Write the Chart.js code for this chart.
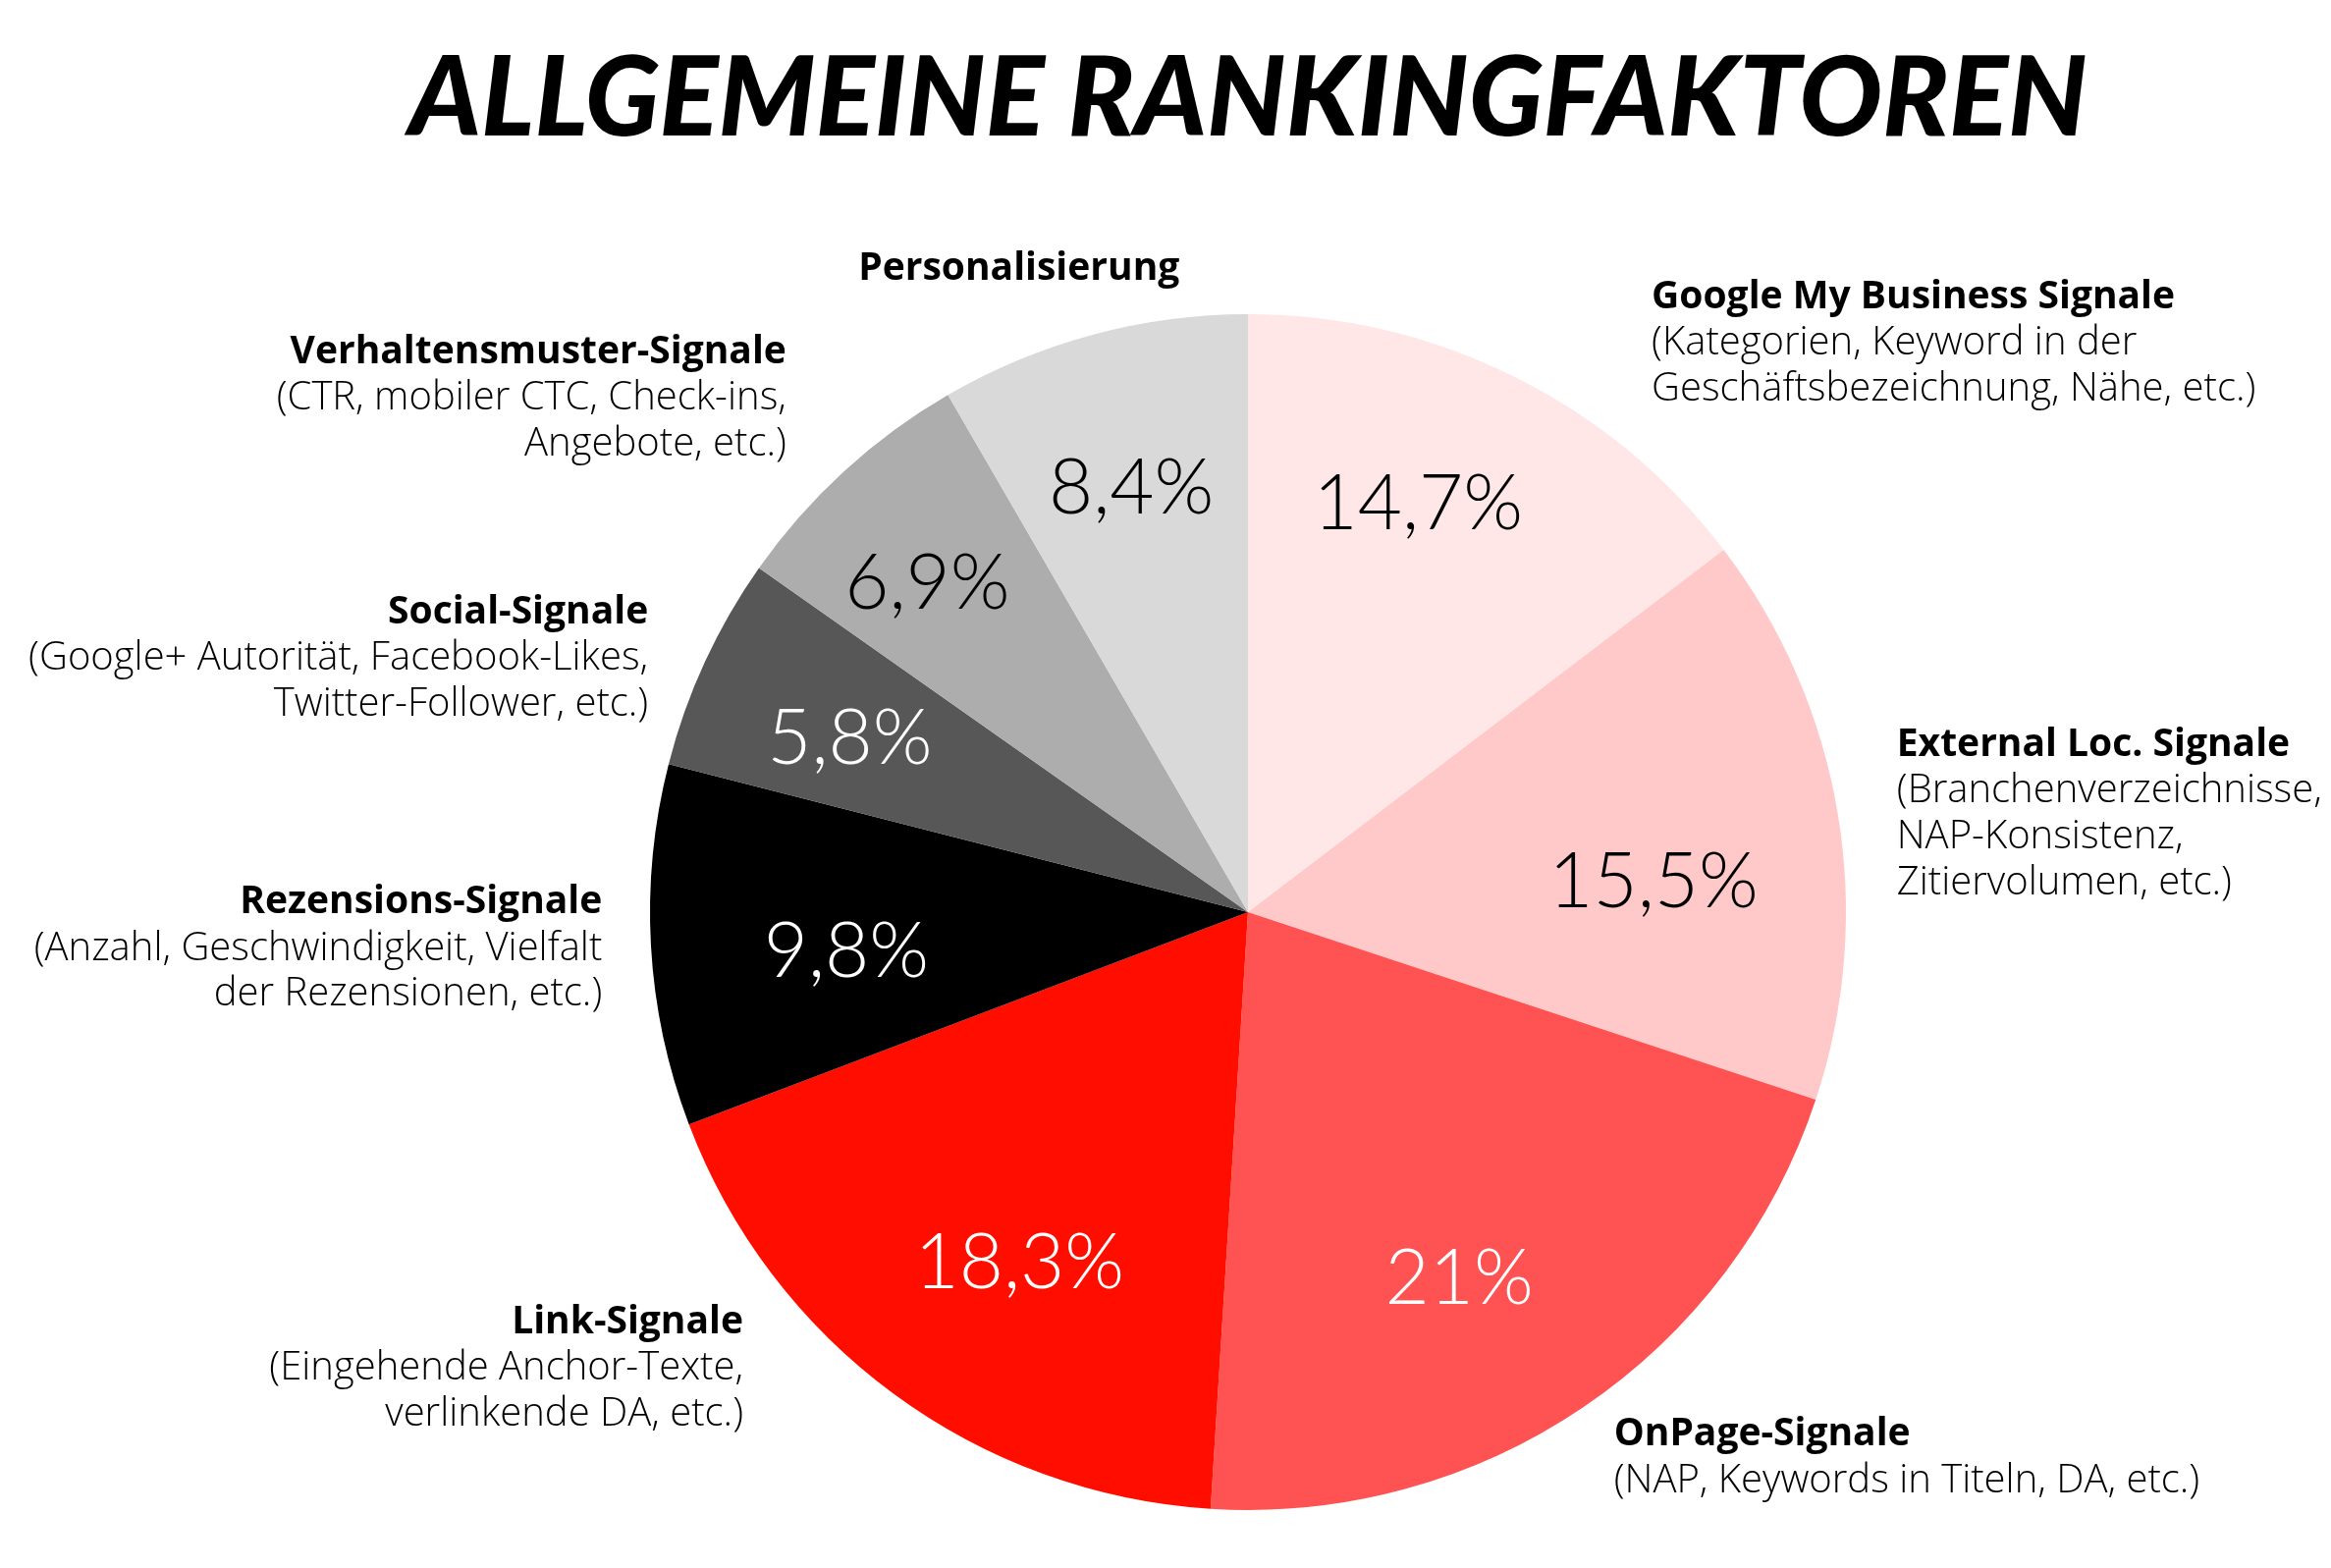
<!DOCTYPE html>
<html>
<head>
<meta charset="utf-8">
<script src="https://cdn.jsdelivr.net/npm/chart.js@4/dist/chart.umd.min.js"></script>
<style>
    html, body { margin: 0; padding: 0; background: #fff; }
    #wrap { width: 2374px; height: 1597px; }
</style>
</head>
<body>
<div id="wrap"><canvas id="rankingChart"></canvas></div>
<script>
// Daten
const categories = [
    'Google My Business Signale',
    'External Loc. Signale',
    'OnPage-Signale',
    'Link-Signale',
    'Rezensions-Signale',
    'Social-Signale',
    'Verhaltensmuster-Signale',
    'Personalisierung'
];
const details = [
    ['(Kategorien, Keyword in der', 'Geschäftsbezeichnung, Nähe, etc.)'],
    ['(Branchenverzeichnisse,', 'NAP-Konsistenz,', 'Zitiervolumen, etc.)'],
    ['(NAP, Keywords in Titeln, DA, etc.)'],
    ['(Eingehende Anchor-Texte,', 'verlinkende DA, etc.)'],
    ['(Anzahl, Geschwindigkeit, Vielfalt', 'der Rezensionen, etc.)'],
    ['(Google+ Autorität, Facebook-Likes,', 'Twitter-Follower, etc.)'],
    ['(CTR, mobiler CTC, Check-ins,', 'Angebote, etc.)'],
    []
];
const shares = [14.7, 15.5, 21, 18.3, 9.8, 5.8, 6.9, 8.4];

// Farben
const sliceColors = ['#FFE7E7', '#FFC9C9', '#FF5252', '#FF0E00', '#000000', '#575757', '#ADADAD', '#D9D9D9'];
const valueColors = ['#000', '#000', '#fff', '#fff', '#fff', '#fff', '#000', '#000'];

// kleine Verschiebung der Prozentwerte (in Radius-Einheiten)
const valueNudge = [
    [-0.035, -0.037], [-0.032, 0.070], [-0.050, 0.017], [0.045, 0.008],
    [0.047, 0.027], [-0.012, 0.012], [-0.050, -0.017], [-0.008, -0.012]
];

// Beschriftungen aussen, relativ zu Mittelpunkt und Radius
const outerLabels = [
    { dx: 0.675, dy: -1.028, align: 'left' },
    { dx: 1.085, dy: -0.279, align: 'left' },
    { dx: 0.612, dy: 0.874, align: 'left' },
    { dx: -0.844, dy: 0.686, align: 'right' },
    { dx: -1.080, dy: -0.016, align: 'right' },
    { dx: -1.003, dy: -0.501, align: 'right' },
    { dx: -0.772, dy: -0.936, align: 'right' },
    { dx: -0.383, dy: -1.076, align: 'center' }
];

const FONT = 'Lato, "Open Sans", sans-serif';
const LABEL_FONT = '"Open Sans", Lato, sans-serif';

const valueLabels = {
    id: 'valueLabels',
    afterDatasetsDraw(chart) {
        const ctx = chart.ctx;
        const meta = chart.getDatasetMeta(0);
        ctx.save();
        ctx.textAlign = 'center';
        ctx.textBaseline = 'middle';
        meta.data.forEach((arc, i) => {
            const p = arc.getProps(['x', 'y', 'startAngle', 'endAngle', 'outerRadius'], true);
            const mid = (p.startAngle + p.endAngle) / 2;
            const r = p.outerRadius * 0.72;
            const nx = valueNudge[i][0] * p.outerRadius;
            const ny = valueNudge[i][1] * p.outerRadius;
            ctx.font = '300 ' + Math.round(p.outerRadius * 0.128) + 'px ' + FONT;
            ctx.fillStyle = valueColors[i];
            const txt = String(shares[i]).replace('.', ',') + '%';
            ctx.fillText(txt, p.x + Math.cos(mid) * r + nx, p.y + Math.sin(mid) * r + ny);
        });
        ctx.restore();
    }
};

const categoryLabels = {
    id: 'categoryLabels',
    afterDraw(chart) {
        const ctx = chart.ctx;
        const arc = chart.getDatasetMeta(0).data[0];
        const cx = arc.x, cy = arc.y, R = arc.outerRadius;
        const size = Math.round(R * 0.064);
        const smallSize = Math.round(R * 0.065);
        const lineH = R * 0.077;
        ctx.save();
        ctx.textBaseline = 'middle';
        ctx.fillStyle = '#000';
        categories.forEach((name, i) => {
            const pos = outerLabels[i];
            const x = cx + pos.dx * R;
            let y = cy + pos.dy * R;
            ctx.textAlign = pos.align;
            ctx.font = '700 ' + size + 'px ' + LABEL_FONT;
            ctx.fillText(name, x, y);
            ctx.font = '300 ' + smallSize + 'px ' + LABEL_FONT;
            details[i].forEach(line => {
                y += lineH;
                ctx.fillText(line, x, y);
            });
        });
        ctx.restore();
    }
};

document.addEventListener('DOMContentLoaded', () => {
    new Chart(document.getElementById('rankingChart'), {
        type: 'pie',
        data: {
            labels: categories,
            datasets: [{
                data: shares,
                backgroundColor: sliceColors,
                borderWidth: 0
            }]
        },
        options: {
            responsive: true,
            maintainAspectRatio: false,
            animation: false,
            layout: {
                padding: { left: 168, right: 0, top: 0, bottom: 59 }
            },
            plugins: {
                legend: { display: false },
                tooltip: { enabled: false },
                title: {
                    display: true,
                    text: 'ALLGEMEINE RANKINGFAKTOREN',
                    color: '#000',
                    font: { family: FONT, size: 112, weight: '900', style: 'italic', lineHeight: 1 },
                    padding: { top: 46, bottom: 162 }
                }
            }
        },
        plugins: [valueLabels, categoryLabels]
    });
});
</script>
</body>
</html>
